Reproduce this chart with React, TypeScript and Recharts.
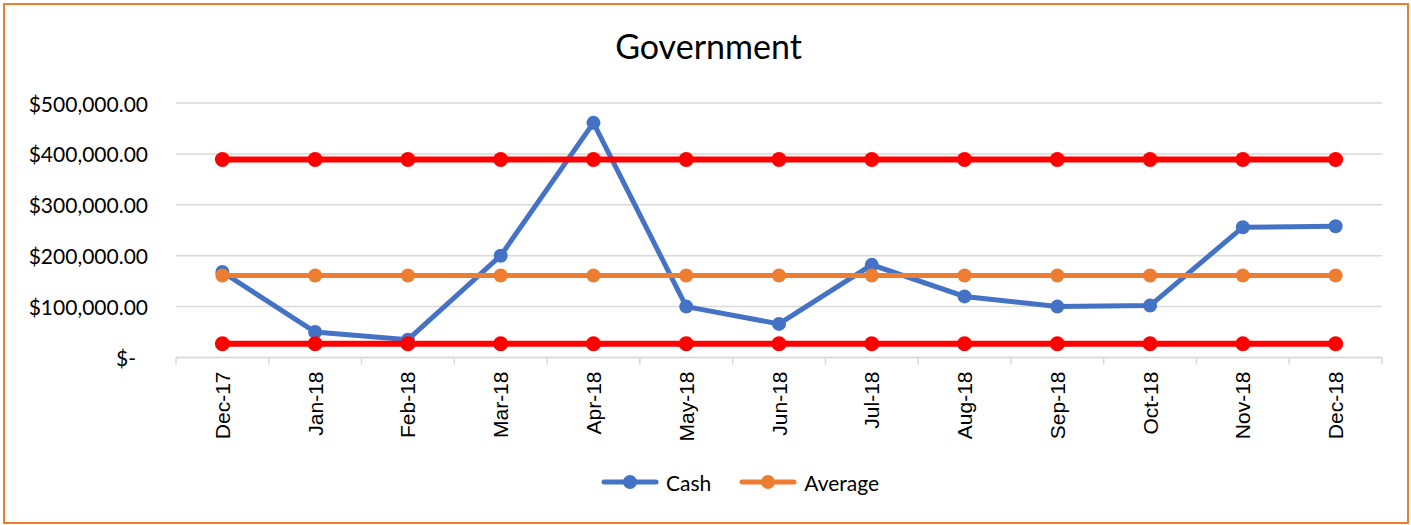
import { LineChart, Line, XAxis, YAxis, CartesianGrid, Legend } from "recharts";

const months = [
    "Dec-17", "Jan-18", "Feb-18", "Mar-18", "Apr-18", "May-18", "Jun-18",
    "Jul-18", "Aug-18", "Sep-18", "Oct-18", "Nov-18", "Dec-18",
];
const cash = [168000, 50000, 35000, 200000, 461000, 100000, 66000, 182000, 120000, 100000, 102000, 256000, 258000];
const average = [161000, 161000, 161000, 161000, 161000, 161000, 161000, 161000, 161000, 161000, 161000, 161000, 161000];
const upperLimit = [389000, 389000, 389000, 389000, 389000, 389000, 389000, 389000, 389000, 389000, 389000, 389000, 389000];
const lowerLimit = [27000, 27000, 27000, 27000, 27000, 27000, 27000, 27000, 27000, 27000, 27000, 27000, 27000];
const yTicks = [0, 100000, 200000, 300000, 400000, 500000];

const data = months.map((m, i) => ({
    month: m,
    cash: cash[i],
    average: average[i],
    upper: upperLimit[i],
    lower: lowerLimit[i],
}));

const W = 1411;
const H = 525;
const PLOT_LEFT = 176;
const PLOT_RIGHT = 29;
const HALF_BAND = (W - PLOT_LEFT - PLOT_RIGHT) / months.length / 2;
const SANS = "Lato, 'Open Sans', sans-serif";

const money = (v: number) =>
    v === 0 ? "$-" : "$" + v.toLocaleString("en-US", { minimumFractionDigits: 2, maximumFractionDigits: 2 });

function YTick(props: any) {
    const { x, y, payload } = props;
    const zero = payload.value === 0;
    return (
        <text x={zero ? x - 12 : x} y={y} textAnchor="end" dominantBaseline="central" fontSize={21} fontFamily={SANS} fill="#000">
            {money(payload.value)}
        </text>
    );
}

function XTick(props: any) {
    const { x, y, payload, index } = props;
    const ty = y + 14;
    return (
        <g>
            <line x1={x - HALF_BAND} y1={y} x2={x - HALF_BAND} y2={y + 7} stroke="#D9D9D9" strokeWidth={1.5} />
            {index === months.length - 1 && (
                <line x1={x + HALF_BAND} y1={y} x2={x + HALF_BAND} y2={y + 7} stroke="#D9D9D9" strokeWidth={1.5} />
            )}
            <text
                x={x}
                y={ty}
                transform={`rotate(-90, ${x}, ${ty})`}
                textAnchor="end"
                dominantBaseline="central"
                fontSize={21}
                fontFamily="'Liberation Sans', Arial, sans-serif"
                fill="#000"
            >
                {payload.value}
            </text>
        </g>
    );
}

function LegendBox() {
    const items = [
        { name: "Cash", color: "#4472C4" },
        { name: "Average", color: "#ED7D31" },
    ];
    return (
        <div style={{ display: "flex", alignItems: "center", height: 30, gap: 28, fontFamily: SANS, fontSize: 21 }}>
            {items.map((it) => (
                <div key={it.name} style={{ display: "flex", alignItems: "center", gap: 7 }}>
                    <svg width={58} height={16}>
                        <line x1={3} y1={8} x2={55} y2={8} stroke={it.color} strokeWidth={5} strokeLinecap="round" />
                        <circle cx={29} cy={8} r={7} fill={it.color} />
                    </svg>
                    <span style={{ color: "#000" }}>{it.name}</span>
                </div>
            ))}
        </div>
    );
}

export default function App() {
    return (
        <div style={{ position: "absolute", left: 0, top: 0, width: W, height: H, background: "#fff" }}>
            <div
                style={{
                    position: "absolute",
                    left: 3,
                    top: 3,
                    width: W - 5,
                    height: H - 4,
                    border: "2px solid #ED7D31",
                    boxSizing: "border-box",
                }}
            />
            <div
                style={{
                    position: "absolute",
                    top: 29,
                    left: 0,
                    width: W + 6,
                    textAlign: "center",
                    fontFamily: SANS,
                    fontSize: 34,
                    lineHeight: "34px",
                    color: "#000",
                }}
            >
                Government
            </div>
            <LineChart width={W} height={H} data={data} margin={{ top: 103, right: PLOT_RIGHT, left: 0, bottom: 7.5 }}>
                <CartesianGrid vertical={false} stroke="#D9D9D9" strokeWidth={1.5} />
                <XAxis
                    dataKey="month"
                    height={130}
                    padding={{ left: HALF_BAND, right: HALF_BAND }}
                    axisLine={{ stroke: "#D9D9D9", strokeWidth: 1.5 }}
                    tickLine={false}
                    tickSize={0}
                    tickMargin={0}
                    interval={0}
                    tick={<XTick />}
                />
                <YAxis
                    width={PLOT_LEFT}
                    domain={[0, 500000]}
                    ticks={yTicks}
                    axisLine={false}
                    tickLine={false}
                    tickSize={0}
                    tickMargin={28}
                    tick={<YTick />}
                />
                <Legend content={<LegendBox />} wrapperStyle={{ left: 601, top: 467, width: 300 }} />
                <Line
                    dataKey="cash"
                    name="Cash"
                    stroke="#4472C4"
                    strokeWidth={5}
                    dot={{ r: 7, fill: "#4472C4", stroke: "none" }}
                    isAnimationActive={false}
                />
                <Line
                    dataKey="average"
                    name="Average"
                    stroke="#ED7D31"
                    strokeWidth={5}
                    dot={{ r: 7, fill: "#ED7D31", stroke: "none" }}
                    isAnimationActive={false}
                />
                <Line
                    dataKey="upper"
                    name="Upper"
                    stroke="#FF0000"
                    strokeWidth={6}
                    legendType="none"
                    dot={{ r: 7.5, fill: "#FF0000", stroke: "none" }}
                    isAnimationActive={false}
                />
                <Line
                    dataKey="lower"
                    name="Lower"
                    stroke="#FF0000"
                    strokeWidth={6}
                    legendType="none"
                    dot={{ r: 7.5, fill: "#FF0000", stroke: "none" }}
                    isAnimationActive={false}
                />
            </LineChart>
        </div>
    );
}
